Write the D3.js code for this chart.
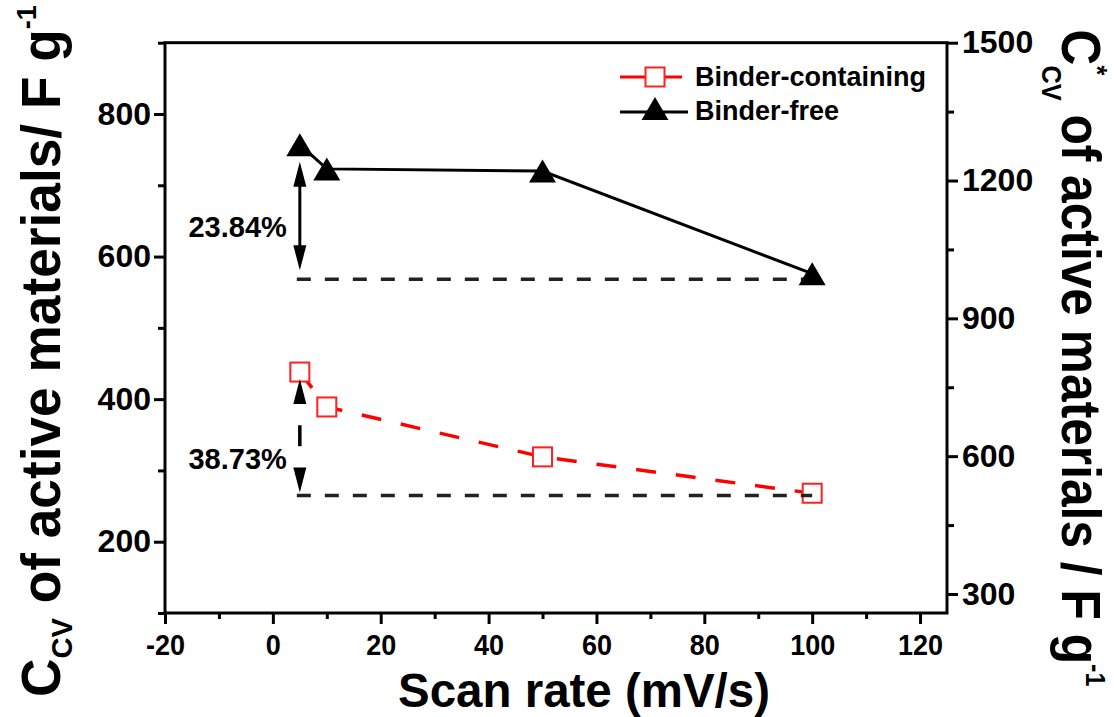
<!DOCTYPE html>
<html>
<head>
<meta charset="utf-8">
<script src="https://cdn.jsdelivr.net/npm/d3@7"></script>
<style>
  body { margin: 0; background: #fff; }
  text { font-family: "Liberation Sans", Arial, sans-serif; font-weight: bold; fill: #000; }
</style>
</head>
<body>
<div id="chart"></div>
<script>
// scan rates in mV/s
var scanRates = [5, 10, 50, 100];
// specific capacitance read on the left axis (F/g)
var binderContaining = [438, 389, 319, 268];
var binderFree = [757, 723, 720, 576];
var seriesNames = ["Binder-containing", "Binder-free"];

// capacitance loss labels and the dashed levels they point down to
var dropLabels = ["23.84%", "38.73%"];
var dropLevels = [568, 265];

// axis ticks
var xTicks = [-20, 0, 20, 40, 60, 80, 100, 120];
var xMinor = [-10, 10, 30, 50, 70, 90, 110];
var yLeftTicks = [200, 400, 600, 800];
var yLeftMinor = [100, 300, 500, 700, 900];
var yRightTicks = [300, 600, 900, 1200, 1500];
var yRightMinor = [450, 750, 1050, 1350];

function init() {
    var w = 1114, h = 717;
    var svg = d3.select("#chart").append("svg")
                .attr("width", w)
                .attr("height", h);

    // plot frame
    var left = 165, right = 947, top = 42.7, bottom = 613;

    var x = d3.scaleLinear().domain([-20, 125]).range([left, right]);
    var yL = d3.scaleLinear().domain([100, 900]).range([bottom, top]);
    var yR = d3.scaleLinear().domain([258.6, 1500]).range([bottom, top]);

    function tidy(g, size) {
        g.select(".domain").remove();
        g.selectAll(".tick line").attr("stroke", "#000").attr("stroke-width", 3);
        g.selectAll(".tick text").style("font-size", size + "px").attr("fill", "#000");
    }

    // bottom axis (labels a little condensed, as in the original)
    svg.append("g").attr("transform", "translate(0," + bottom + ")")
        .call(d3.axisBottom(x).tickValues(xMinor).tickSize(6).tickFormat(""))
        .call(tidy, 30);
    svg.append("g").attr("transform", "translate(0," + bottom + ")")
        .call(d3.axisBottom(x).tickValues(xTicks).tickSize(11).tickPadding(10)
              .tickFormat(function(d) { return String(d); }))
        .call(tidy, 30)
        .selectAll(".tick text").attr("transform", "scale(0.9,1)");

    // left axis
    svg.append("g").attr("transform", "translate(" + left + ",0)")
        .call(d3.axisLeft(yL).tickValues(yLeftMinor).tickSize(7).tickFormat(""))
        .call(tidy, 32);
    svg.append("g").attr("transform", "translate(" + left + ",0)")
        .call(d3.axisLeft(yL).tickValues(yLeftTicks).tickSize(11).tickPadding(3)
              .tickFormat(function(d) { return String(d); }))
        .call(tidy, 32);

    // right axis
    svg.append("g").attr("transform", "translate(" + right + ",0)")
        .call(d3.axisRight(yR).tickValues(yRightMinor).tickSize(7).tickFormat(""))
        .call(tidy, 32);
    svg.append("g").attr("transform", "translate(" + right + ",0)")
        .call(d3.axisRight(yR).tickValues(yRightTicks).tickSize(11).tickPadding(4)
              .tickFormat(function(d) { return String(d); }))
        .call(tidy, 32);

    svg.append("rect")
        .attr("x", left).attr("y", top)
        .attr("width", right - left).attr("height", bottom - top)
        .attr("fill", "none").attr("stroke", "#000").attr("stroke-width", 3);

    var line = d3.line()
        .x(function(d) { return x(d[0]); })
        .y(function(d) { return yL(d[1]); });

    var contPts = d3.zip(scanRates, binderContaining);
    var freePts = d3.zip(scanRates, binderFree);

    // series lines
    svg.append("path").datum(contPts)
        .attr("d", line)
        .attr("fill", "none").attr("stroke", "#ff0000")
        .attr("stroke-width", 3.5).attr("stroke-dasharray", "20,20");
    svg.append("path").datum(freePts)
        .attr("d", line)
        .attr("fill", "none").attr("stroke", "#000")
        .attr("stroke-width", 3);

    // square markers
    svg.selectAll("rect.sq").data(contPts).enter()
        .append("rect").attr("class", "sq")
        .attr("x", function(d) { return x(d[0]) - 9.5; })
        .attr("y", function(d) { return yL(d[1]) - 9.5; })
        .attr("width", 19).attr("height", 19)
        .attr("fill", "#fff").attr("stroke", "#ff2020").attr("stroke-width", 2);

    // dashed reference levels from the first to the last scan rate
    svg.selectAll("line.ref").data(dropLevels).enter()
        .append("line").attr("class", "ref")
        .attr("x1", x(scanRates[0]) - 3)
        .attr("x2", x(scanRates[scanRates.length - 1]))
        .attr("y1", function(d) { return yL(d); })
        .attr("y2", function(d) { return yL(d); })
        .attr("stroke", "#222").attr("stroke-width", 3.5)
        .attr("stroke-dasharray", "14,14");

    // triangle markers
    var tri = "M0,-11.5L13.5,11.5L-13.5,11.5Z";
    svg.selectAll("path.tri").data(freePts).enter()
        .append("path").attr("class", "tri")
        .attr("d", tri)
        .attr("transform", function(d) { return "translate(" + x(d[0]) + "," + yL(d[1]) + ")"; })
        .attr("fill", "#000");

    // double arrows showing the capacitance drop
    function head(ax, tipY, dir) {
        svg.append("path")
            .attr("d", "M" + ax + "," + tipY + "L" + (ax + 6.5) + "," + (tipY + dir * 25) +
                       "L" + (ax - 6.5) + "," + (tipY + dir * 25) + "Z")
            .attr("fill", "#000");
    }
    var ax = x(scanRates[0]);
    var arrows = [
        { t: yL(binderFree[0]) + 17, b: yL(dropLevels[0]) - 9, dashed: false, dy: 21 },
        { t: yL(binderContaining[0]) + 7, b: yL(dropLevels[1]) - 3, dashed: true, dy: 33 }
    ];
    arrows.forEach(function(a, i) {
        head(ax, a.t, 1);
        head(ax, a.b, -1);
        var mid = (a.t + a.b) / 2;
        if (a.dashed) {
            svg.append("line").attr("x1", ax).attr("x2", ax)
                .attr("y1", mid - 10.5).attr("y2", mid + 10.5)
                .attr("stroke", "#000").attr("stroke-width", 3.5);
        } else {
            svg.append("line").attr("x1", ax).attr("x2", ax)
                .attr("y1", a.t + 20).attr("y2", a.b - 20)
                .attr("stroke", "#000").attr("stroke-width", 3);
        }
        svg.append("text")
            .attr("x", ax - 13).attr("y", mid + a.dy)
            .attr("text-anchor", "end")
            .style("font-size", "29px")
            .text(dropLabels[i]);
    });

    // legend
    var lg = svg.append("g");
    lg.append("line").attr("x1", 620).attr("x2", 682).attr("y1", 77).attr("y2", 77)
        .attr("stroke", "#ff0000").attr("stroke-width", 3);
    lg.append("rect").attr("x", 645.5).attr("y", 67.5).attr("width", 19).attr("height", 19)
        .attr("fill", "#fff").attr("stroke", "#ff2020").attr("stroke-width", 2);
    lg.append("text").attr("x", 695).attr("y", 86).style("font-size", "27px").text(seriesNames[0]);
    lg.append("line").attr("x1", 620).attr("x2", 688).attr("y1", 112).attr("y2", 112)
        .attr("stroke", "#000").attr("stroke-width", 3);
    lg.append("path").attr("d", tri).attr("transform", "translate(655,108.5)").attr("fill", "#000");
    lg.append("text").attr("x", 695).attr("y", 120).style("font-size", "27px").text(seriesNames[1]);

    // fit a title to a given length along its reading direction
    function fit(t, len) {
        var n = t.node().getComputedTextLength();
        t.attr("transform", "scale(" + (len / n) + ",1)");
    }

    // left axis title
    var lt = svg.append("g").attr("transform", "translate(60,351) rotate(-90)")
        .append("text").attr("text-anchor", "middle").style("font-size", "55px");
    lt.append("tspan").text("C");
    lt.append("tspan").attr("dy", 12).style("font-size", "30px").text("CV");
    lt.append("tspan").attr("dy", -12).text(" of active materials/ F g");
    lt.append("tspan").attr("dy", -24).style("font-size", "28px").text("-1");
    fit(lt, 692);

    // right axis title
    var rt = svg.append("g").attr("transform", "translate(1062,358) rotate(90)")
        .append("text").attr("text-anchor", "middle").style("font-size", "55px");
    rt.append("tspan").text("C");
    var star = rt.append("tspan").attr("dy", -26).style("font-size", "28px").text("*");
    var sw = star.node().getComputedTextLength();
    rt.append("tspan").attr("dx", -sw).attr("dy", 46).style("font-size", "28px").text("CV");
    rt.append("tspan").attr("dy", -20).text(" of active materials / F g");
    rt.append("tspan").attr("dy", -24).style("font-size", "28px").text("-1");
    fit(rt, 667);

    // bottom title
    var bt = svg.append("g").attr("transform", "translate(584,707)")
        .append("text").attr("text-anchor", "middle").style("font-size", "48px")
        .text("Scan rate (mV/s)");
    fit(bt, 372);
}

window.onload = init;
</script>
</body>
</html>
